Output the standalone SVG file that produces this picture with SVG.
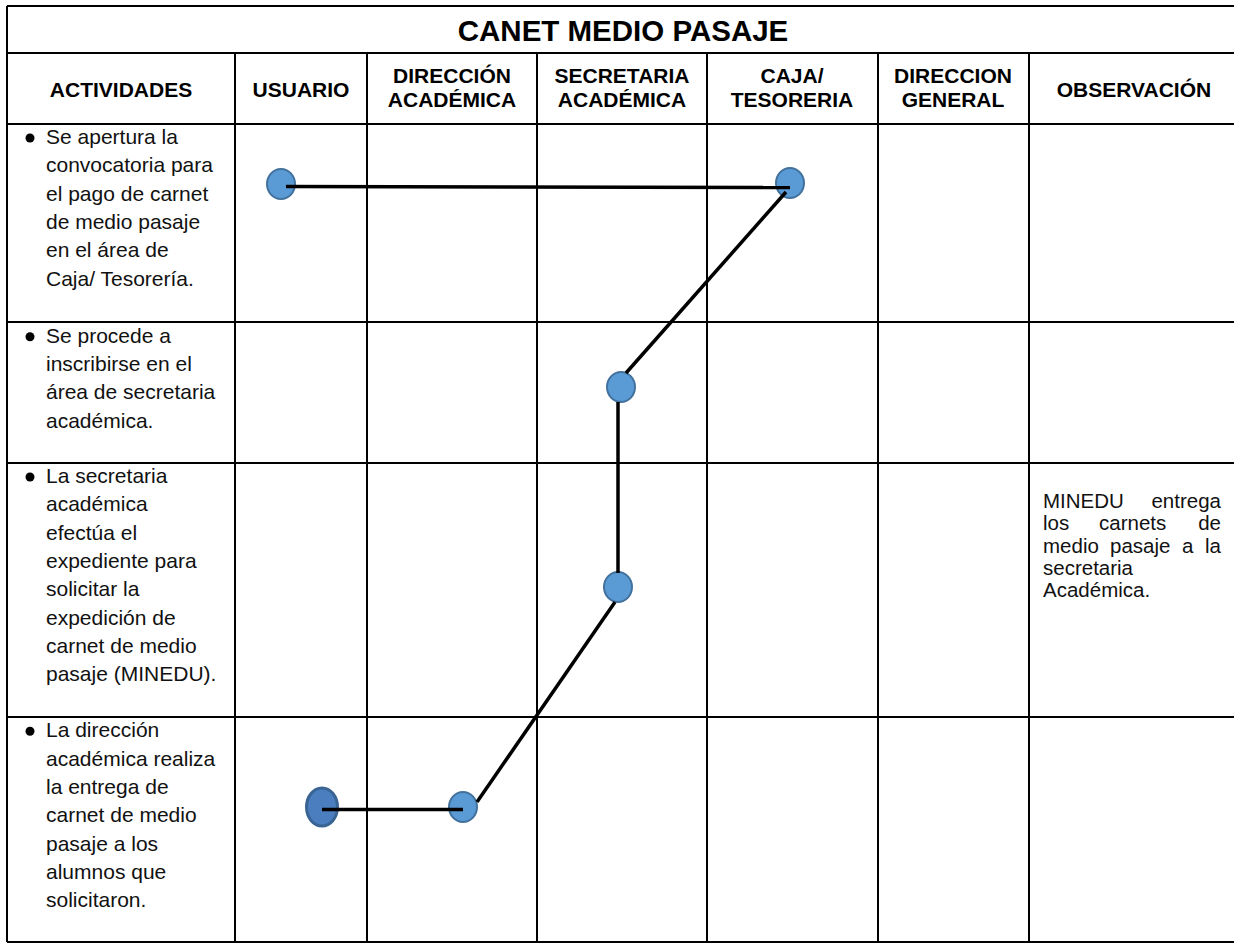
<svg xmlns="http://www.w3.org/2000/svg" width="1234" height="943" viewBox="0 0 1234 943">
<style>
.grid{stroke:#000;stroke-width:2;fill:none}
.title{font-family:"Liberation Sans",Arial,sans-serif;font-weight:bold;font-size:29.5px;fill:#000;text-anchor:middle}
.hd{font-family:"Liberation Sans",Arial,sans-serif;font-weight:bold;font-size:21px;fill:#000;text-anchor:middle}
.body{font-family:"Liberation Sans",Arial,sans-serif;font-size:21px;fill:#111}
.obs{font-family:"Liberation Sans",Arial,sans-serif;font-size:20.5px;fill:#111}
.node{fill:#5B9BD5;stroke:#41719C;stroke-width:2}
.node-dark{fill:#4A7EBE;stroke:#3A6494;stroke-width:3}
.conn{stroke:#000;stroke-width:3.5;fill:none}
</style>
<rect width="1234" height="943" fill="#fff"/>
<g id="table">
<path class="grid" d="M7 6H1234M7 53H1234M7 124H1234M7 322H1234M7 463H1234M7 717H1234M7 942H1234M7 6V942M235 53V942M367 53V942M537 53V942M707 53V942M878 53V942M1029 53V942"/>
<text class="title" x="623" y="41">CANET MEDIO PASAJE</text>
<text class="hd" x="121" y="97">ACTIVIDADES</text>
<text class="hd" x="301" y="97">USUARIO</text>
<text class="hd" x="452" y="83">DIRECCIÓN</text>
<text class="hd" x="452" y="107">ACADÉMICA</text>
<text class="hd" x="622" y="83">SECRETARIA</text>
<text class="hd" x="622" y="107">ACADÉMICA</text>
<text class="hd" x="792" y="83">CAJA/</text>
<text class="hd" x="792" y="107">TESORERIA</text>
<text class="hd" x="953" y="83">DIRECCION</text>
<text class="hd" x="953" y="107">GENERAL</text>
<text class="hd" x="1134" y="97">OBSERVACIÓN</text>
</g>
<g id="activity1">
<circle cx="30" cy="138" r="4.5" fill="#000"/>
<text class="body" x="46" y="144">Se apertura la</text>
<text class="body" x="46" y="172.3">convocatoria para</text>
<text class="body" x="46" y="200.6">el pago de carnet</text>
<text class="body" x="46" y="228.9">de medio pasaje</text>
<text class="body" x="46" y="257.2">en el área de</text>
<text class="body" x="46" y="285.5">Caja/ Tesorería.</text>
</g>
<g id="activity2">
<circle cx="30" cy="336.7" r="4.5" fill="#000"/>
<text class="body" x="46" y="342.7">Se procede a</text>
<text class="body" x="46" y="371">inscribirse en el</text>
<text class="body" x="46" y="399.3">área de secretaria</text>
<text class="body" x="46" y="427.6">académica.</text>
</g>
<g id="activity3">
<circle cx="30" cy="477" r="4.5" fill="#000"/>
<text class="body" x="46" y="483">La secretaria</text>
<text class="body" x="46" y="511.3">académica</text>
<text class="body" x="46" y="539.6">efectúa el</text>
<text class="body" x="46" y="567.9">expediente para</text>
<text class="body" x="46" y="596.2">solicitar la</text>
<text class="body" x="46" y="624.5">expedición de</text>
<text class="body" x="46" y="652.8">carnet de medio</text>
<text class="body" x="46" y="681.1">pasaje (MINEDU).</text>
</g>
<g id="activity4">
<circle cx="30" cy="731.3" r="4.5" fill="#000"/>
<text class="body" x="46" y="737.3">La dirección</text>
<text class="body" x="46" y="765.6">académica realiza</text>
<text class="body" x="46" y="793.9">la entrega de</text>
<text class="body" x="46" y="822.2">carnet de medio</text>
<text class="body" x="46" y="850.5">pasaje a los</text>
<text class="body" x="46" y="878.8">alumnos que</text>
<text class="body" x="46" y="907.1">solicitaron.</text>
</g>
<g id="observation">
<text class="obs" x="1043" y="508">MINEDU</text>
<text class="obs" x="1221" y="508" text-anchor="end">entrega</text>
<text class="obs" x="1043" y="530.3">los</text>
<text class="obs" x="1099" y="530.3">carnets</text>
<text class="obs" x="1221" y="530.3" text-anchor="end">de</text>
<text class="obs" x="1043" y="552.6">medio</text>
<text class="obs" x="1110" y="552.6">pasaje</text>
<text class="obs" x="1182" y="552.6">a</text>
<text class="obs" x="1221" y="552.6" text-anchor="end">la</text>
<text class="obs" x="1043" y="574.9">secretaria</text>
<text class="obs" x="1043" y="597.2">Académica.</text>
</g>
<g id="n1"><ellipse class="node" cx="281" cy="184" rx="14" ry="15"/></g>
<g id="n2"><ellipse class="node" cx="790" cy="183" rx="14" ry="15"/></g>
<g id="n3"><ellipse class="node" cx="621" cy="387" rx="14" ry="15"/></g>
<g id="n4"><ellipse class="node" cx="618" cy="587" rx="14" ry="15"/></g>
<g id="n5"><ellipse class="node" cx="463" cy="807" rx="14" ry="15"/></g>
<g id="n6"><ellipse class="node-dark" cx="322" cy="807" rx="15.5" ry="19"/></g>
<g id="connectors">
<line class="conn" x1="286" y1="186.5" x2="790" y2="187.5"/>
<line class="conn" x1="786" y1="192" x2="626" y2="373"/>
<line class="conn" x1="618" y1="402" x2="618" y2="573"/>
<line class="conn" x1="615" y1="602" x2="477" y2="802"/>
<line class="conn" x1="322" y1="809.5" x2="463" y2="809.5"/>
</g>
</svg>
